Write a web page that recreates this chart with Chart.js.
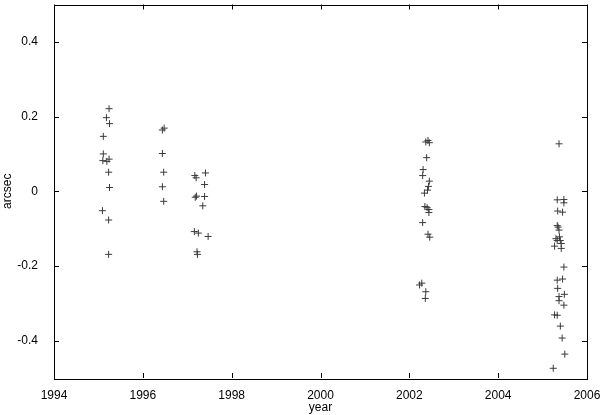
<!DOCTYPE html>
<html>
<head>
<meta charset="utf-8">
<script src="https://cdn.jsdelivr.net/npm/chart.js@4.4.0/dist/chart.umd.min.js"></script>
<style>
    html, body { margin: 0; padding: 0; background: #fff; }
    #wrap { width: 600px; height: 415px; }
</style>
</head>
<body>
<div id="wrap"><canvas id="chart" width="600" height="415"></canvas></div>
<script>
const years = [
    1995.24, 1995.18, 1995.25, 1995.11, 1995.11, 1995.10, 1995.19, 1995.24, 1995.23, 1995.25, 1995.09, 1995.23, 1995.23,
    1996.48, 1996.44, 1996.44, 1996.47, 1996.44, 1996.47,
    1997.17, 1997.20, 1997.41, 1997.39, 1997.18, 1997.21, 1997.39, 1997.35, 1997.16, 1997.25, 1997.47, 1997.22, 1997.23,
    2002.37, 2002.42, 2002.45, 2002.39, 2002.31, 2002.30, 2002.45, 2002.43, 2002.41, 2002.34, 2002.35, 2002.40, 2002.44,
    2002.44, 2002.30, 2002.42, 2002.46, 2002.23, 2002.28, 2002.37, 2002.36,
    2005.37, 2005.33, 2005.48, 2005.48, 2005.34, 2005.45, 2005.33, 2005.35, 2005.37, 2005.38, 2005.30, 2005.33, 2005.40,
    2005.42, 2005.27, 2005.42, 2005.48, 2005.33, 2005.45, 2005.34, 2005.49, 2005.37, 2005.37, 2005.48, 2005.27, 2005.33,
    2005.40, 2005.44, 2005.50, 2005.24
];
const offsets = [
    0.221, 0.197, 0.181, 0.147, 0.100, 0.082, 0.080, 0.086, 0.051, 0.010, -0.052, -0.077, -0.169,
    0.169, 0.164, 0.101, 0.051, 0.012, -0.027,
    0.042, 0.036, 0.049, 0.018, -0.016, -0.013, -0.014, -0.039, -0.108, -0.112, -0.121, -0.162, -0.169,
    0.132, 0.136, 0.130, 0.090, 0.058, 0.042, 0.027, 0.013, 0.003, -0.005, -0.041, -0.044, -0.049,
    -0.057, -0.084, -0.115, -0.123, -0.251, -0.246, -0.269, -0.287,
    0.127, -0.023, -0.022, -0.031, -0.053, -0.056, -0.092, -0.096, -0.104, -0.122, -0.127, -0.132, -0.132,
    -0.140, -0.147, -0.153, -0.203, -0.238, -0.235, -0.260, -0.276, -0.282, -0.293, -0.305, -0.331, -0.332,
    -0.361, -0.393, -0.436, -0.474
];
const xTicks = [1994, 1996, 1998, 2000, 2002, 2004, 2006];
const yTicks = [-0.4, -0.2, 0, 0.2, 0.4];

const font = { family: '"Liberation Sans", Arial, sans-serif', size: 12 };

// gnuplot-style frame with inward ticks on all four sides
const framePlugin = {
    id: 'frame',
    afterDraw(chart) {
        const { ctx, chartArea: a, scales: { x, y } } = chart;
        const len = 5;
        ctx.save();
        ctx.strokeStyle = '#000';
        ctx.lineWidth = 1;
        ctx.beginPath();
        xTicks.forEach(v => {
            const px = Math.round(x.getPixelForValue(v)) + 0.5;
            ctx.moveTo(px, a.bottom); ctx.lineTo(px, a.bottom - len);
            ctx.moveTo(px, a.top); ctx.lineTo(px, a.top + len);
        });
        yTicks.forEach(v => {
            const py = Math.round(y.getPixelForValue(v)) + 0.5;
            ctx.moveTo(a.left, py); ctx.lineTo(a.left + len, py);
            ctx.moveTo(a.right, py); ctx.lineTo(a.right - len, py);
        });
        ctx.stroke();
        ctx.strokeRect(Math.round(a.left) + 0.5, Math.round(a.top) + 0.5,
            Math.round(a.right - a.left), Math.round(a.bottom - a.top));
        ctx.restore();
    }
};

new Chart(document.getElementById('chart'), {
    type: 'scatter',
    data: {
        datasets: [{
            data: years.map((yr, i) => ({ x: yr, y: offsets[i] })),
            pointStyle: 'cross',
            pointRadius: 3.5,
            pointHoverRadius: 3.5,
            pointBorderWidth: 1,
            borderColor: '#3a3a3a',
            backgroundColor: '#3a3a3a'
        }]
    },
    options: {
        responsive: false,
        animation: false,
        layout: { padding: { top: 4, right: 13, left: 0, bottom: 0 } },
        plugins: { legend: { display: false }, tooltip: { enabled: false } },
        scales: {
            x: {
                type: 'linear',
                min: 1994,
                max: 2006,
                afterBuildTicks: s => { s.ticks = xTicks.map(v => ({ value: v })); },
                afterFit: s => { s.height = 37; s.paddingLeft = 0; s.paddingRight = 0; },
                grid: { display: false },
                border: { display: false },
                ticks: { font, color: '#000', padding: 2, maxRotation: 0, callback: v => String(v) },
                title: { display: true, text: 'year', font, color: '#000', padding: { top: 0, bottom: 0 } }
            },
            y: {
                type: 'linear',
                min: -0.5,
                max: 0.5,
                afterBuildTicks: s => { s.ticks = yTicks.map(v => ({ value: v })); },
                afterFit: s => { s.width = 54; s.paddingTop = 0; s.paddingBottom = 0; },
                grid: { display: false },
                border: { display: false },
                ticks: { font, color: '#000', padding: 8, callback: v => String(v) },
                title: { display: true, text: 'arcsec', font, color: '#000', padding: { top: 0, bottom: 0 } }
            }
        }
    },
    plugins: [framePlugin]
});
</script>
</body>
</html>
